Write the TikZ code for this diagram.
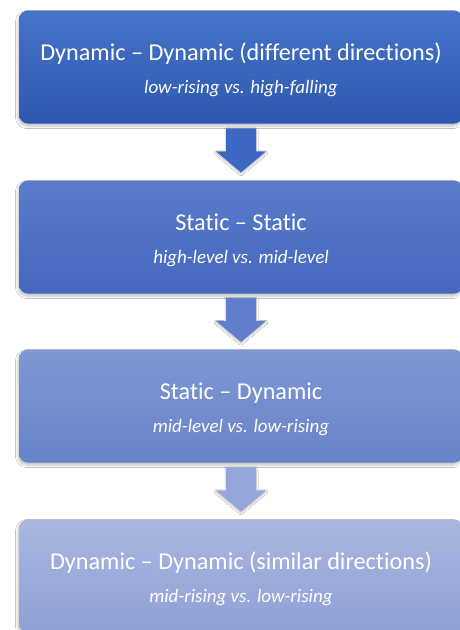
\documentclass[tikz,border=0pt]{standalone}
\usepackage{fontspec}
\setmainfont{Carlito}[Ligatures=NoCommon]
\usetikzlibrary{shadows.blur,calc}
\definecolor{bAtop}{HTML}{4674C8}
\definecolor{bAbot}{HTML}{2D58AE}
\definecolor{bBtop}{HTML}{5A7CCB}
\definecolor{bBbot}{HTML}{4467BE}
\definecolor{bCtop}{HTML}{8098D4}
\definecolor{bCbot}{HTML}{6782C8}
\definecolor{bDtop}{HTML}{AAB7E0}
\definecolor{bDbot}{HTML}{909FD5}
\definecolor{aA}{HTML}{3D67C2}
\definecolor{aB}{HTML}{5F7ECC}
\definecolor{aC}{HTML}{94A6DA}
\tikzset{
  stagebox/.style={rectangle, rounded corners=9pt, minimum width=444pt, minimum height=113pt,
    inner sep=0pt, align=center, text=white, font=\fontsize{24.2}{33}\selectfont,
    blur shadow={shadow xshift=-1pt, shadow yshift=-2.5pt, shadow blur radius=2.5pt, shadow opacity=25}},
  blockarrow/.pic={
    \fill[pic actions, blur shadow={shadow xshift=0pt, shadow yshift=-1.5pt, shadow blur radius=2pt, shadow opacity=30}]
      (-15,-22) -- (15,-22) -- (15,1) -- (25,1) -- (0,22) -- (-25,1) -- (-15,1) -- cycle;
  },
}
\newcommand{\subl}[1]{\\{\fontsize{19}{33}\selectfont\itshape #1}}
\newcommand{\ttlstrut}{\rule{0pt}{23pt}}
\begin{document}
\begin{tikzpicture}[x=1pt,y=-1pt]
\useasboundingbox[fill=white] (0,0) rectangle (459,630);
\node[stagebox, top color=bAtop, bottom color=bAbot] (b1) at (241,67)
  {\ttlstrut Dynamic -- Dynamic (different directions)\subl{low-rising vs. high-falling}};
\node[stagebox, top color=bBtop, bottom color=bBbot] (b2) at (241,237)
  {\ttlstrut Static -- Static\subl{high-level vs. mid-level}};
\node[stagebox, top color=bCtop, bottom color=bCbot] (b3) at (241,406)
  {\ttlstrut Static -- Dynamic\subl{mid-level vs. low-rising}};
\node[stagebox, top color=bDtop, bottom color=bDbot] (b4) at (241,576)
  {\ttlstrut Dynamic -- Dynamic (similar directions)\subl{mid-rising vs. low-rising}};
\coordinate (m1) at ($(b1.south)!0.47!(b2.north)$);
\coordinate (m2) at ($(b2.south)!0.47!(b3.north)$);
\coordinate (m3) at ($(b3.south)!0.47!(b4.north)$);
\pic[fill=aA] at (m1) {blockarrow};
\pic[fill=aB] at (m2) {blockarrow};
\pic[fill=aC] at (m3) {blockarrow};
\end{tikzpicture}
\end{document}
